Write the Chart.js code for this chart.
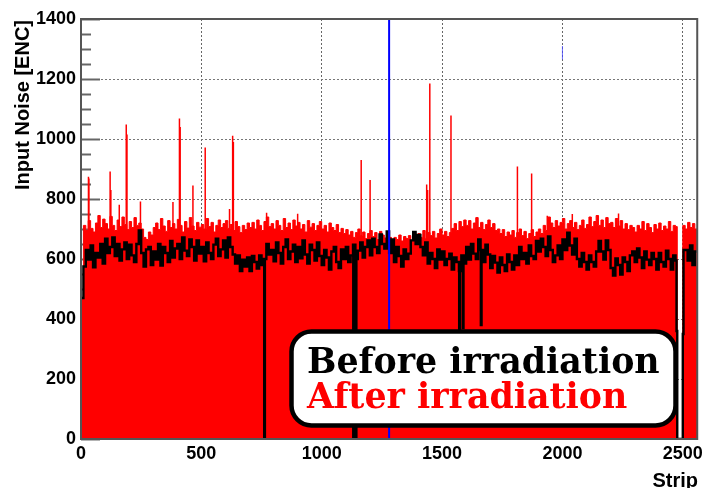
<!DOCTYPE html>
<html>
<head>
<meta charset="utf-8">
<script src="https://cdn.jsdelivr.net/npm/chart.js@4.4.0/dist/chart.umd.min.js"></script>
<style>
  html, body { margin: 0; padding: 0; background: #fff; }
  #wrap { width: 707px; height: 488px; }
</style>
</head>
<body>
<div id="wrap"><canvas id="noiseChart" width="707" height="488"></canvas></div>
<script>
const binWidth = 10;
const stripMax = 2560;

// after irradiation (red filled histogram), one value per 10 strips
const afterNoise = [
  470, 712, 695, 728, 702, 690, 720, 745, 705, 733,
  718, 700, 742, 712, 695, 730, 708, 740, 715, 698,
  725, 705, 738, 712, 720, 700, 672, 665, 690, 680,
  705, 720, 698, 735, 710, 692, 728, 705, 718, 700,
  732, 712, 690, 725, 703, 738, 710, 695, 722, 706,
  715, 700, 735, 708, 722, 690, 712, 730, 705, 718,
  728, 702, 715, 695, 725, 708, 688, 712, 698, 720,
  705, 722, 700, 730, 712, 695, 725, 740, 708, 718,
  700, 728, 712, 695, 735, 705, 720, 698, 730, 710,
  722, 700, 715, 690, 728, 706, 718, 695, 712, 725,
  700, 712, 690, 720, 705, 695, 715, 688, 702, 685,
  698, 680, 692, 672, 688, 700, 678, 690, 668, 685,
  695, 675, 688, 665, 692, 680, 670, 686, 672, 660,
  672, 665, 680, 660, 675, 668, 678, 662, 690, 670,
  685, 672, 695, 668, 688, 678, 692, 670, 685, 700,
  680, 692, 675, 688, 702, 718, 695, 725, 708, 730,
  712, 728, 700, 720, 738, 705, 722, 698, 715, 730,
  705, 718, 695, 700, 685, 698, 675, 690, 680, 695,
  672, 688, 700, 678, 692, 668, 685, 698, 675, 690,
  700, 685, 712, 695, 740, 720, 705, 728, 710, 722,
  735, 700, 718, 728, 705, 722, 698, 712, 730, 702,
  715, 740, 708, 725, 745, 712, 730, 705, 738, 718,
  722, 705, 735, 710, 728, 700, 718, 698, 712, 705,
  690, 712, 700, 725, 695, 718, 705, 688, 715, 700,
  720, 695, 710, 700, 725, 692, 712, 708, 0, 0,
  712, 700, 722, 705, 718, 700
];
const afterExtraStrips = [2477];
const afterExtraValues = [0];

// before irradiation (black line), one value per 10 strips
const beforeNoise = [
  470, 575, 630, 598, 645, 572, 620, 605, 650, 585,
  668, 620, 640, 672, 610, 650, 595, 632, 655, 600,
  648, 612, 590, 650, 695, 620, 575, 632, 640, 580,
  625, 598, 650, 578, 640, 620, 590, 660, 605, 635,
  650, 600, 672, 628, 610, 665, 640, 595, 662, 618,
  640, 592, 655, 620, 600, 648, 668, 610, 632, 662,
  605, 672, 640, 615, 585, 612, 560, 598, 575, 605,
  560, 610, 590, 568, 612, 580, 600, 650, 615, 630,
  592, 655, 620, 585, 640, 665, 600, 625, 648, 590,
  640, 602, 662, 615, 585, 648, 630, 595, 655, 610,
  580, 630, 605, 565, 625, 640, 590, 570, 632, 600,
  640, 590, 612, 648, 600, 628, 655, 605, 640, 662,
  612, 668, 640, 620, 682, 650, 635, 692, 620, 665,
  590, 640, 610, 575, 632, 600, 618, 662, 690, 650,
  680, 640, 612, 655, 585, 620, 600, 570, 632, 598,
  625, 580, 600, 618, 565, 605, 590, 560, 612, 585,
  640, 598, 650, 618, 600, 665, 630, 590, 648, 615,
  570, 610, 588, 555, 605, 580, 560, 615, 590, 565,
  612, 580, 640, 600, 620, 585, 645, 610, 600, 660,
  625, 668, 640, 610, 675, 630, 590, 612, 645, 600,
  665, 630, 688, 645, 615, 668, 600, 575, 620, 590,
  565, 612, 590, 575, 625, 660, 625, 598, 662, 630,
  570, 545, 602, 580, 548, 605, 590, 560, 612, 625,
  590, 635, 605, 570, 625, 598, 580, 620, 600, 565,
  620, 590, 575, 628, 600, 565, 612, 595, 0, 0,
  350, 630, 595, 645, 580, 625
];
// dead / noisy channels in the black curve
const beforeExtraStrips = [761, 764, 1131, 1134, 1141, 1144, 1571, 1574, 1586, 1589, 1661, 1664, 2474, 2477, 2503];
const beforeExtraValues = [0, 600, 0, 648, 0, 600, 365, 560, 370, 612, 380, 630, 360, 0, 630];

// single noisy strips after irradiation
const spikeStrips = [31, 33, 121, 124, 159, 188, 191, 247, 382, 409, 412, 465, 516, 617, 630, 633,
  771, 900, 1164, 1201, 1436, 1440, 1449, 1537, 1813, 1872, 1937, 2041, 2233];
const spikeValues = [874, 868, 892, 830, 781, 1048, 1015, 792, 790, 1068, 1040, 845, 972, 767, 1011, 990,
  754, 751, 930, 863, 848, 830, 1185, 1078, 908, 885, 744, 750, 752];

const markerStrip = 1280;
const stubStrip = 2000;
const stubRange = [1265, 1310];
const xTickValues = [0, 500, 1000, 1500, 2000, 2500];
const yTickValues = [0, 200, 400, 600, 800, 1000, 1200, 1400];

function stepPoints(values, extraX, extraY) {
  const pts = values.map((v, i) => ({ x: i * binWidth, y: v }));
  extraX.forEach((x, i) => pts.push({ x: x, y: extraY[i] }));
  pts.sort((a, b) => a.x - b.x);
  pts.push({ x: stripMax, y: pts[pts.length - 1].y });
  return pts;
}

const spikeData = [];
spikeStrips.forEach((s, i) => {
  spikeData.push({ x: s, y: 0 }, { x: s, y: spikeValues[i] }, { x: s, y: null });
});

const rootStyle = {
  id: 'rootStyle',
  beforeDatasetsDraw(chart) {
    const { ctx, chartArea } = chart;
    const y = chart.scales.y;
    ctx.save();
    ctx.strokeStyle = '#666';
    ctx.lineWidth = 2;
    for (let v = 0; v <= 1400; v += 50) {
      const py = Math.round(y.getPixelForValue(v)) + 0.5;
      const len = v % 200 === 0 ? 19 : 10;
      ctx.beginPath();
      ctx.moveTo(chartArea.left, py);
      ctx.lineTo(chartArea.left + len, py);
      ctx.stroke();
    }
    ctx.restore();
  },
  afterDatasetsDraw(chart) {
    const { ctx, chartArea: a } = chart;
    ctx.save();
    ctx.lineWidth = 2;
    ctx.strokeStyle = '#555';
    ctx.beginPath();
    ctx.moveTo(a.left, a.top);
    ctx.lineTo(a.right, a.top);
    ctx.lineTo(a.right, a.bottom);
    ctx.lineTo(a.left, a.bottom);
    ctx.closePath();
    ctx.stroke();
    ctx.restore();
  },
  afterDraw(chart) {
    const { ctx } = chart;
    ctx.save();
    // axis titles
    ctx.fillStyle = '#000';
    ctx.font = 'bold 20px "Liberation Sans", Arial, sans-serif';
    ctx.textAlign = 'right';
    ctx.textBaseline = 'alphabetic';
    ctx.fillText('Strip', 698, 487);
    ctx.translate(28.5, 20);
    ctx.rotate(-Math.PI / 2);
    ctx.fillText('Input Noise [ENC]', 0, 0);
    ctx.restore();

    // legend box
    ctx.save();
    const bx = 291.5, by = 331.5, bw = 384, bh = 94, r = 20;
    ctx.beginPath();
    ctx.moveTo(bx + r, by);
    ctx.lineTo(bx + bw - r, by);
    ctx.arcTo(bx + bw, by, bx + bw, by + r, r);
    ctx.lineTo(bx + bw, by + bh - r);
    ctx.arcTo(bx + bw, by + bh, bx + bw - r, by + bh, r);
    ctx.lineTo(bx + r, by + bh);
    ctx.arcTo(bx, by + bh, bx, by + bh - r, r);
    ctx.lineTo(bx, by + r);
    ctx.arcTo(bx, by, bx + r, by, r);
    ctx.closePath();
    ctx.fillStyle = '#fff';
    ctx.fill();
    ctx.lineWidth = 4.5;
    ctx.strokeStyle = '#000';
    ctx.stroke();
    ctx.font = 'bold 34.8px "DejaVu Serif", serif';
    ctx.textAlign = 'left';
    ctx.fillStyle = '#000';
    ctx.fillText('Before irradiation', 307, 373);
    ctx.fillStyle = '#ff0000';
    ctx.fillText('After irradiation', 307, 408);
    ctx.restore();
  }
};

const tickFont = { family: '"Liberation Sans", Arial, sans-serif', size: 18, weight: 'bold' };

new Chart(document.getElementById('noiseChart').getContext('2d'), {
  type: 'line',
  data: {
    datasets: [
      {
        label: 'marker',
        data: [{ x: markerStrip, y: 0 }, { x: markerStrip, y: 1400 }],
        borderColor: '#0000ff',
        borderWidth: 2,
        pointRadius: 0,
        order: 0
      },
      {
        label: 'stub',
        data: [{ x: stubStrip, y: stubRange[0] }, { x: stubStrip, y: stubRange[1] }],
        borderColor: 'rgba(70,70,255,0.8)',
        borderWidth: 1,
        pointRadius: 0,
        order: 0
      },
      {
        label: 'Before irradiation',
        data: stepPoints(beforeNoise, beforeExtraStrips, beforeExtraValues),
        borderColor: '#000',
        borderWidth: 2.4,
        stepped: true,
        pointRadius: 0,
        fill: false,
        order: 1
      },
      {
        label: 'spikes',
        data: spikeData,
        borderColor: '#ff0000',
        borderWidth: 1.5,
        pointRadius: 0,
        spanGaps: false,
        order: 2
      },
      {
        label: 'After irradiation',
        data: stepPoints(afterNoise, afterExtraStrips, afterExtraValues),
        borderColor: '#ff0000',
        backgroundColor: '#ff0000',
        borderWidth: 1,
        stepped: true,
        pointRadius: 0,
        fill: 'origin',
        order: 3
      }
    ]
  },
  options: {
    responsive: false,
    animation: false,
    devicePixelRatio: 1,
    layout: { padding: { top: 19, right: 8, left: 0, bottom: 0 } },
    plugins: {
      legend: { display: false },
      tooltip: { enabled: false }
    },
    scales: {
      x: {
        type: 'linear',
        min: 0,
        max: stripMax,
        afterBuildTicks: s => { s.ticks = xTickValues.map(v => ({ value: v })); },
        afterFit: s => { s.height = 49; },
        ticks: { font: tickFont, color: '#000', padding: 4, maxRotation: 0, callback: v => String(v) },
        grid: { color: '#666', lineWidth: 1, drawTicks: false },
        border: { display: false, dash: [2, 2] }
      },
      y: {
        min: 0,
        max: 1400,
        afterBuildTicks: s => { s.ticks = yTickValues.map(v => ({ value: v })); },
        afterFit: s => { s.width = 81; },
        ticks: { font: tickFont, color: '#000', padding: 5, callback: v => String(v) },
        grid: { color: '#777', lineWidth: 1, drawTicks: false },
        border: { display: false, dash: [2, 2] }
      }
    }
  },
  plugins: [rootStyle]
});
</script>
</body>
</html>
